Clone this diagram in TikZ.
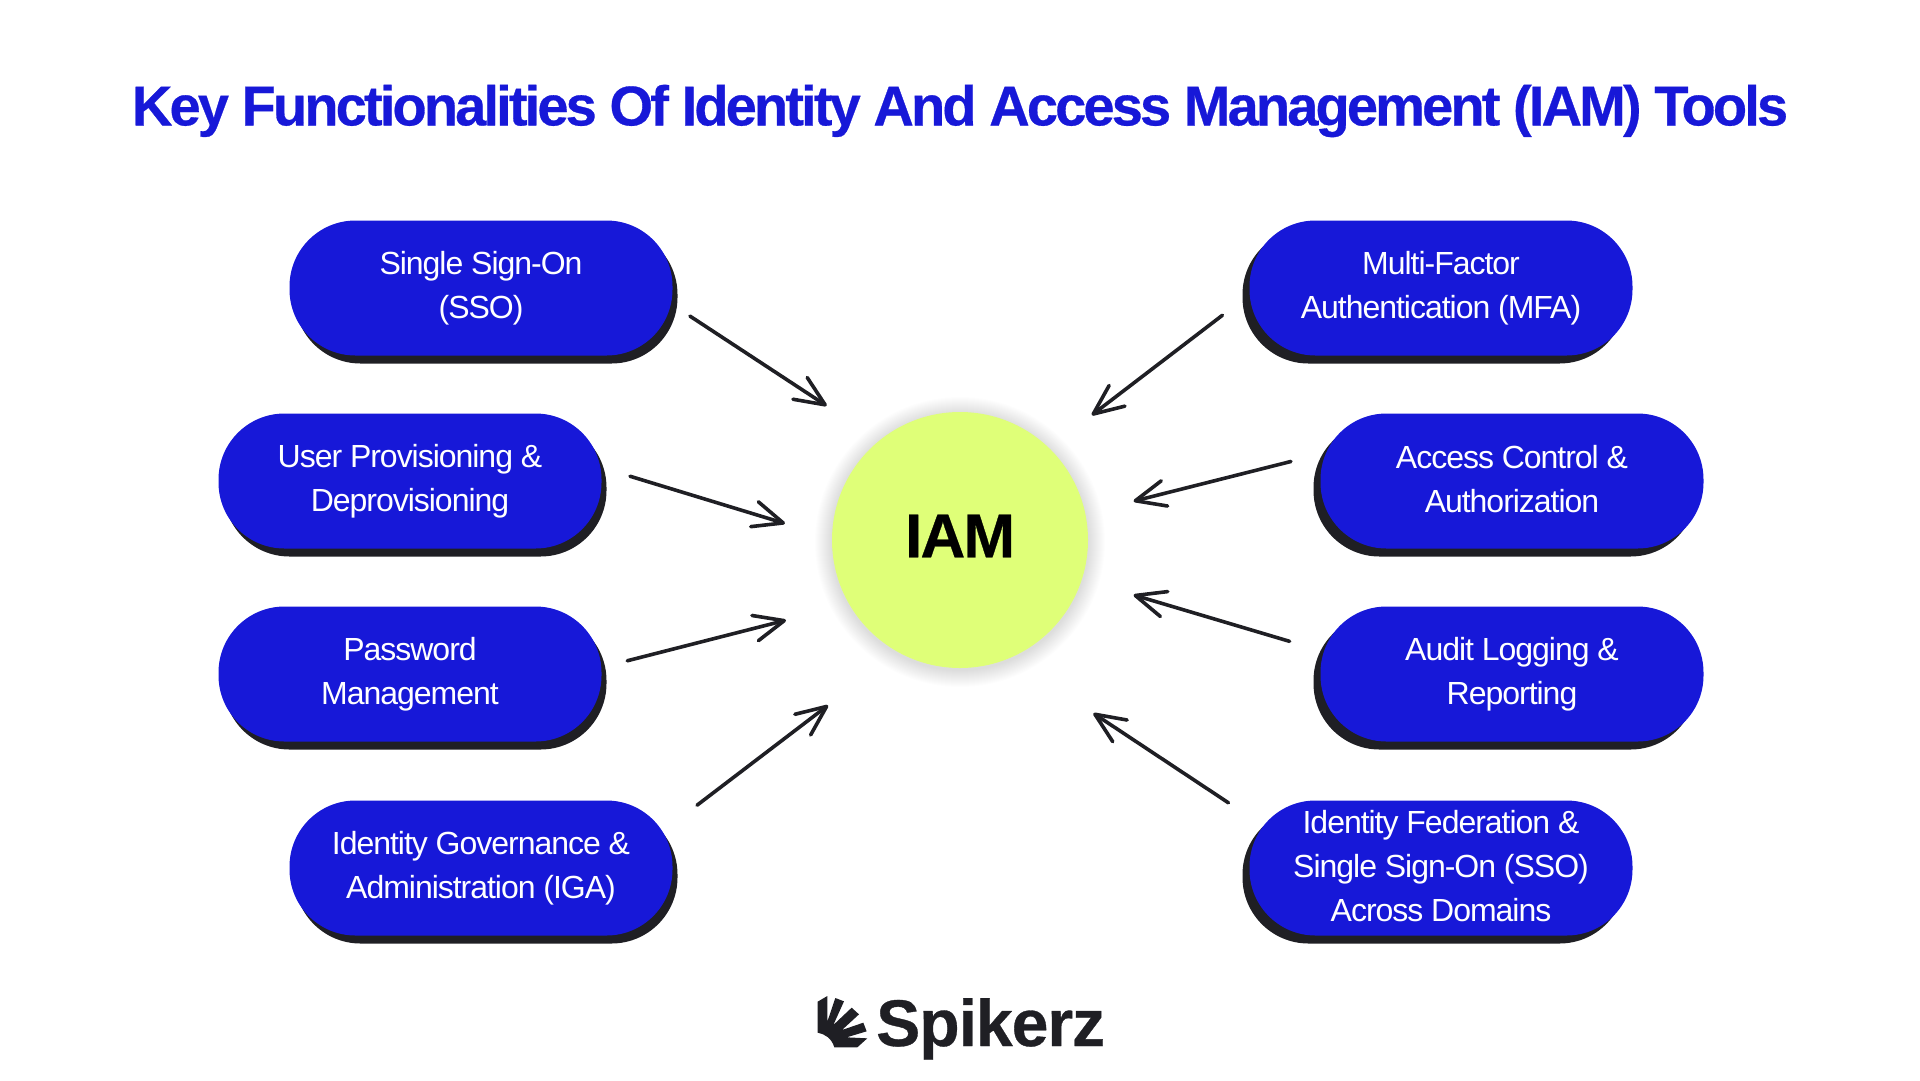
\documentclass[tikz,border=0pt]{standalone}
\usepackage{fontspec}
\setmainfont{Liberation Sans}
\newfontfamily\bodyfont[LetterSpace=-3.2]{Liberation Sans}
\newfontfamily\headfont[LetterSpace=-5.1,BoldFeatures={FakeBold=0.5}]{Liberation Sans}
\newfontfamily\iamfont[LetterSpace=-3,BoldFeatures={FakeBold=0.5}]{Liberation Sans}
\newfontfamily\brandfont[LetterSpace=-1.5,BoldFeatures={FakeBold=0.5}]{Liberation Sans}
\usetikzlibrary{arrows.meta,shadows}
\definecolor{iamblue}{HTML}{1718D8}
\definecolor{iamdark}{HTML}{1F1F24}
\definecolor{iamlime}{HTML}{DFFF78}
\newcommand{\pilltop}{\rule{0pt}{36.5pt}}
\newcommand{\pillend}{\rule[-3.9pt]{0pt}{3.9pt}}

\begin{document}
\begin{tikzpicture}[
  x=1pt,y=-1pt,
  >={Straight Barb[length=30pt,width=26pt,line width=3.6pt,round]},
  pill/.style={fill=iamblue,text=white,minimum width=383pt,minimum height=135pt,
    rounded corners=66pt,inner sep=0pt,align=center,
    execute at begin node=\pilltop,execute at end node=\pillend,
    font=\bodyfont\fontsize{32}{44}\selectfont},
  pillleft/.style={pill,drop shadow={shadow xshift=5pt,shadow yshift=-8pt,fill=iamdark,opacity=1}},
  pillright/.style={pill,drop shadow={shadow xshift=-7pt,shadow yshift=-8pt,fill=iamdark,opacity=1}},
  flow/.style={->,iamdark,line width=3.6pt,line cap=round}
]
  \useasboundingbox (0,0) rectangle (1920,1080);

  \node[font=\headfont\bfseries\fontsize{56}{60}\selectfont,text=iamblue] (title) at (960,111)
    {Key Functionalities Of Identity And Access Management (IAM) Tools};

  % Soft halo under the centre circle.
  \foreach \rad in {129,130,...,145}
    \fill[black,opacity=.006] (960,542) circle (\rad pt);
  \node[circle,fill=iamlime,minimum size=256pt,inner sep=0pt,text depth=8pt,
    font=\iamfont\bfseries\fontsize{62}{62}\selectfont] (iam) at (960,540) {IAM};

  % Left column.
  \node[pillleft] (sso) at (481,288) {Single Sign-On\\(SSO)};
  \node[pillleft] (prov) at (410,481) {User Provisioning \&\\Deprovisioning};
  \node[pillleft] (pwd) at (410,674) {Password\\Management};
  \node[pillleft] (iga) at (481,868) {Identity Governance \&\\Administration (IGA)};

  % Right column.
  \node[pillright] (mfa) at (1441,288) {Multi-Factor\\Authentication (MFA)};
  \node[pillright] (acc) at (1512,481) {Access Control \&\\Authorization};
  \node[pillright] (aud) at (1512,674) {Audit Logging \&\\Reporting};
  \node[pillright] (fed) at (1441,868) {Identity Federation \&\\Single Sign-On (SSO)\\Across Domains};

  % Arrows run along anchor to anchor, cut back at both ends.
  \draw[flow,shorten <=20.6pt,shorten >=63pt] (sso.355.35) -- (iam.129);
  \draw[flow,shorten <=29.6pt,shorten >=49pt] (prov.4.9) -- (iam.179.6);
  \draw[flow,shorten <=26.4pt,shorten >=65pt] (pwd.2.75) -- (iam.210.8);
  \draw[flow,shorten <=30.6pt,shorten >=87.8pt] (iga.13.5) -- (iam.241.2);
  \draw[flow,shorten <=33.8pt,shorten >=53.8pt] (mfa.182.3) -- (iam.46);
  \draw[flow,shorten <=30.3pt,shorten >=49.7pt] (acc.172) -- (iam.12.2);
  \draw[flow,shorten <=32pt,shorten >=53.9pt] (aud.173.9) -- (iam.342.3);
  \draw[flow,shorten <=25pt,shorten >=100pt] (fed.165.6) -- (iam.293);

  % Logo mark, traced at three times its size.
  \begin{scope}[shift={(780,960)},x=.3333pt,y=-.3333pt]
    \fill[iamdark] (113,125) -- (142,108) -- (142,185) -- (166,114) -- (192,124)
      -- (160,195) -- (215,143) -- (237,163) -- (186,210) -- (250,188) -- (260,214)
      -- (200,232) -- (262,235) -- (232,262) -- (163,262)
      .. controls (155,235) and (135,222) .. (113,218) -- cycle;
  \end{scope}
  \node[anchor=base west,inner sep=0pt,text=iamdark,
    font=\brandfont\bfseries\fontsize{66}{66}\selectfont] (brand) at (876,1046) {Spikerz};
\end{tikzpicture}
\end{document}
